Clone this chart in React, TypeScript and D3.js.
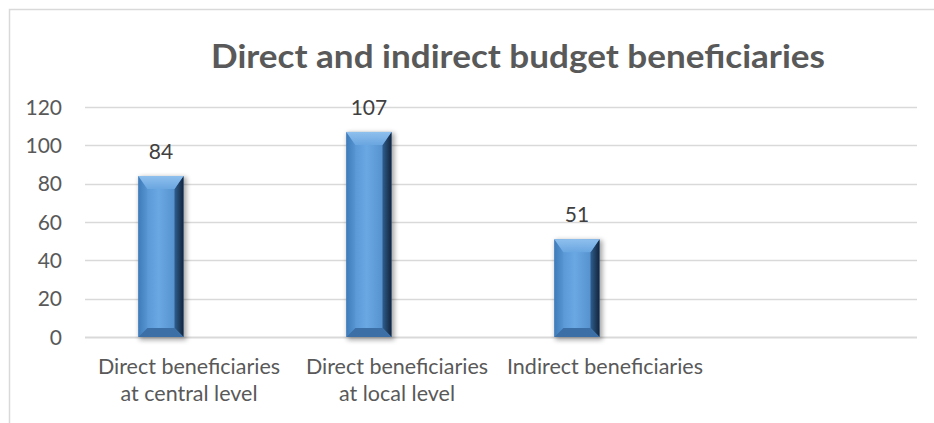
import React from "react";
import * as d3 from "d3";

const title = "Direct and indirect budget beneficiaries";
const categories = [
  "Direct beneficiaries\nat central level",
  "Direct beneficiaries\nat local level",
  "Indirect beneficiaries",
  "",
];
const values: (number | null)[] = [84, 107, 51, null];
const yTicks = [0, 20, 40, 60, 80, 100, 120];

const W = 934;
const H = 423;
const PL = 85;
const PR = 917;
const PT = 107;
const PB = 337;
const FONT = "Lato, 'Open Sans', sans-serif";

export default function App() {
  const x = d3.scaleBand<string>().domain(categories.map((c, i) => i + "")).range([PL, PR]).padding(0);
  const y = d3.scaleLinear().domain([0, 120]).range([PB, PT]);
  const bw = x.bandwidth();
  const barW = bw * 0.217;
  const off = bw * 0.135;
  const bev = 9;
  const topBev = 13;

  return (
    <svg width={W} height={H} style={{ position: "absolute", left: 0, top: 0 }}>
      <defs>
        <linearGradient id="face" x1="0" x2="1" y1="0" y2="0">
          <stop offset="0" stopColor="#4d8bcb" />
          <stop offset="0.45" stopColor="#6aa8e4" />
          <stop offset="1" stopColor="#4a86c2" />
        </linearGradient>
        <linearGradient id="rightB" x1="0" x2="1" y1="0" y2="0">
          <stop offset="0" stopColor="#2f5e8e" />
          <stop offset="1" stopColor="#13243a" />
        </linearGradient>
        <linearGradient id="topB" x1="0" x2="0" y1="0" y2="1">
          <stop offset="0" stopColor="#8fc0ee" />
          <stop offset="1" stopColor="#6aa6e0" />
        </linearGradient>
        <linearGradient id="leftB" x1="0" x2="1" y1="0" y2="0">
          <stop offset="0" stopColor="#3f7bb9" />
          <stop offset="1" stopColor="#5694d2" />
        </linearGradient>
        <filter id="shadow" x="-30%" y="-10%" width="160%" height="130%">
          <feGaussianBlur stdDeviation="2.5" />
        </filter>
      </defs>
      <rect x={0} y={0} width={W} height={H} fill="#ffffff" />
      <rect x={9.5} y={9.5} width={W + 20} height={H + 20} fill="none" stroke="#d9d9d9" strokeWidth={1.5} />
      <text
        x={518}
        y={68}
        textAnchor="middle"
        fontFamily={FONT}
        fontWeight={700}
        fontSize={32}
        fill="#595959"
        textLength={614}
        lengthAdjust="spacingAndGlyphs"
      >
        {title}
      </text>
      {yTicks.map((t) => (
        <g key={t}>
          <line
            x1={PL}
            x2={PR}
            y1={Math.round(y(t)) + 0.5}
            y2={Math.round(y(t)) + 0.5}
            stroke="#d9d9d9"
            strokeWidth={t === 0 ? 2 : 1.3}
          />
          <text
            x={62}
            y={y(t)}
            dy="0.36em"
            textAnchor="end"
            fontFamily={FONT}
            fontSize={21}
            fill="#595959"
          >
            {t}
          </text>
        </g>
      ))}
      {categories.map((c, i) => {
        const v = values[i];
        const cx = (x(i + "") as number) + bw / 2;
        const lines = c.split("\n");
        const labels = lines.map((ln, k) => (
          <text
            key={"l" + k}
            x={cx}
            y={374 + k * 27}
            textAnchor="middle"
            fontFamily={FONT}
            fontSize={21.5}
            fill="#595959"
          >
            {ln}
          </text>
        ));
        if (v == null) return <g key={i}>{labels}</g>;
        const bc = cx - off;
        const x0 = bc - barW / 2;
        const x1 = bc + barW / 2;
        const yt = y(v);
        const yb = y(0);
        return (
          <g key={i}>
            <rect x={x0 + 1} y={yt + 1} width={barW + 2} height={yb - yt + 2} fill="#000" opacity={0.35} filter="url(#shadow)" />
            <rect x={x0} y={yt} width={barW} height={yb - yt} fill="url(#face)" />
            <polygon
              points={`${x0},${yt} ${x0 + bev},${yt + topBev} ${x0 + bev},${yb - bev} ${x0},${yb}`}
              fill="url(#leftB)"
            />
            <polygon
              points={`${x1},${yt} ${x1 - bev},${yt + topBev} ${x1 - bev},${yb - bev} ${x1},${yb}`}
              fill="url(#rightB)"
            />
            <polygon
              points={`${x0},${yt} ${x1},${yt} ${x1 - bev},${yt + topBev} ${x0 + bev},${yt + topBev}`}
              fill="url(#topB)"
            />
            <polygon
              points={`${x0},${yb} ${x1},${yb} ${x1 - bev},${yb - bev} ${x0 + bev},${yb - bev}`}
              fill="#3b6fa6"
            />
            <text
              x={bc}
              y={yt - 17}
              textAnchor="middle"
              fontFamily={FONT}
              fontSize={21}
              fill="#404040"
            >
              {v}
            </text>
            {labels}
          </g>
        );
      })}
    </svg>
  );
}
